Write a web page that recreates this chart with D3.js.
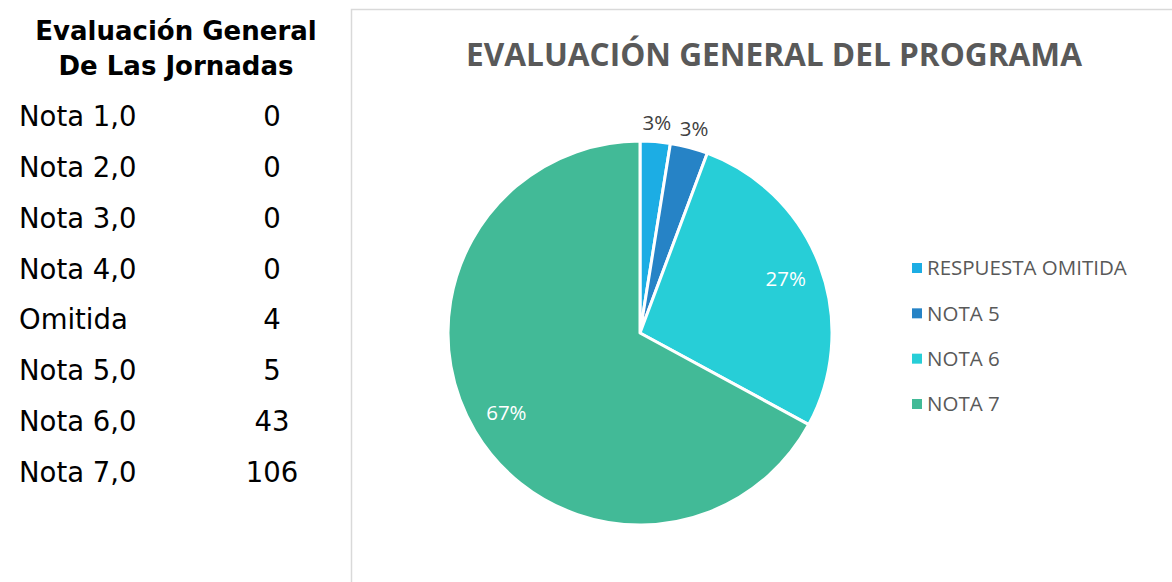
<!DOCTYPE html>
<html>
<head>
<meta charset="utf-8">
<script src="https://cdn.jsdelivr.net/npm/d3@7"></script>
<style>
	body { margin: 0; background: #fff; }
	svg { display: block; }
</style>
</head>
<body>
<div id="chart"></div>
<script>
(function () {
'use strict';

// table on the left
var tableTitle = ["Evaluación General", "De Las Jornadas"];
var tableLabels = ["Nota 1,0", "Nota 2,0", "Nota 3,0", "Nota 4,0", "Omitida", "Nota 5,0", "Nota 6,0", "Nota 7,0"];
var tableValues = [0, 0, 0, 0, 4, 5, 43, 106];

// pie
var chartTitle = "EVALUACIÓN GENERAL DEL PROGRAMA";
var categories = ["RESPUESTA OMITIDA", "NOTA 5", "NOTA 6", "NOTA 7"];
var values = [4, 5, 43, 106];
var colors = ["#1CADE4", "#2683C6", "#27CED7", "#42BA97"];

var W = 1172, H = 582;
var svg = d3.select("#chart").append("svg")
	.attr("width", W)
	.attr("height", H);

var gothic = "'DejaVu Sans', sans-serif";
var calibri = "'Open Sans', sans-serif";

// --- table ---
var table = svg.append("g");
table.selectAll("text.head")
	.data(tableTitle)
	.enter().append("text")
		.attr("class", "head")
		.attr("x", 176)
		.attr("y", function(d, i){ return 40 + i * 35; })
		.attr("text-anchor", "middle")
		.attr("font-family", gothic)
		.attr("font-weight", "bold")
		.attr("font-size", "26px")
		.attr("fill", "#000")
		.text(function(d){ return d; });

var rowY = d3.scalePoint()
	.domain(d3.range(tableLabels.length))
	.range([126, 482]);

table.selectAll("text.lbl")
	.data(tableLabels)
	.enter().append("text")
		.attr("class", "lbl")
		.attr("x", 19)
		.attr("y", function(d, i){ return rowY(i); })
		.attr("font-family", gothic)
		.attr("font-size", "27.5px")
		.attr("fill", "#000")
		.text(function(d){ return d; });

table.selectAll("text.val")
	.data(tableValues)
	.enter().append("text")
		.attr("class", "val")
		.attr("x", 272)
		.attr("y", function(d, i){ return rowY(i); })
		.attr("text-anchor", "middle")
		.attr("font-family", gothic)
		.attr("font-size", "27.5px")
		.attr("fill", "#000")
		.text(function(d){ return d; });

// --- chart frame ---
svg.append("path")
	.attr("d", "M351.5," + H + "V9.5H" + (W + 2))
	.attr("fill", "none")
	.attr("stroke", "#d9d9d9")
	.attr("stroke-width", 1.5);

svg.append("text")
	.attr("x", 774)
	.attr("y", 66)
	.attr("text-anchor", "middle")
	.attr("font-family", calibri)
	.attr("font-weight", "bold")
	.attr("font-size", "31.6px")
	.attr("fill", "#595959")
	.text(chartTitle);

// --- pie ---
var cx = 640, cy = 333, r = 192;
var total = d3.sum(values);
var pie = d3.pie().sort(null).value(function(d){ return d; });
var arcs = pie(values);
var arc = d3.arc().innerRadius(0).outerRadius(r);
var inArc = d3.arc().innerRadius(r * 0.81).outerRadius(r * 0.81);
var outArc = d3.arc().innerRadius(r * 1.1).outerRadius(r * 1.1);

var g = svg.append("g").attr("transform", "translate(" + cx + "," + cy + ")");
g.selectAll("path")
	.data(arcs)
	.enter().append("path")
		.attr("d", arc)
		.attr("fill", function(d, i){ return colors[i]; })
		.attr("stroke", "#fff")
		.attr("stroke-width", 3)
		.attr("stroke-linejoin", "round");

g.selectAll("text")
	.data(arcs)
	.enter().append("text")
		.attr("transform", function(d){
			var big = (d.value / total) > 0.1;
			var c = (big ? inArc : outArc).centroid(d);
			return "translate(" + c[0] + "," + c[1] + ")";
		})
		.attr("dy", "0.35em")
		.attr("text-anchor", "middle")
		.attr("font-family", calibri)
		.attr("font-size", "20.5px")
		.attr("fill", function(d){ return (d.value / total) > 0.1 ? "#fff" : "#404040"; })
		.text(function(d){ return Math.round(d.value / total * 100) + "%"; });

// --- legend ---
var legY = d3.scalePoint()
	.domain(categories)
	.range([268, 404]);

var leg = svg.append("g").selectAll("g")
	.data(categories)
	.enter().append("g")
		.attr("transform", function(d){ return "translate(912," + legY(d) + ")"; });
leg.append("rect")
	.attr("x", 0)
	.attr("y", -5)
	.attr("width", 10)
	.attr("height", 10)
	.attr("fill", function(d, i){ return colors[i]; });
leg.append("text")
	.attr("x", 15)
	.attr("dy", "0.35em")
	.attr("font-family", calibri)
	.attr("font-size", "20.5px")
	.attr("fill", "#595959")
	.text(function(d){ return d; });

}());
</script>
</body>
</html>
